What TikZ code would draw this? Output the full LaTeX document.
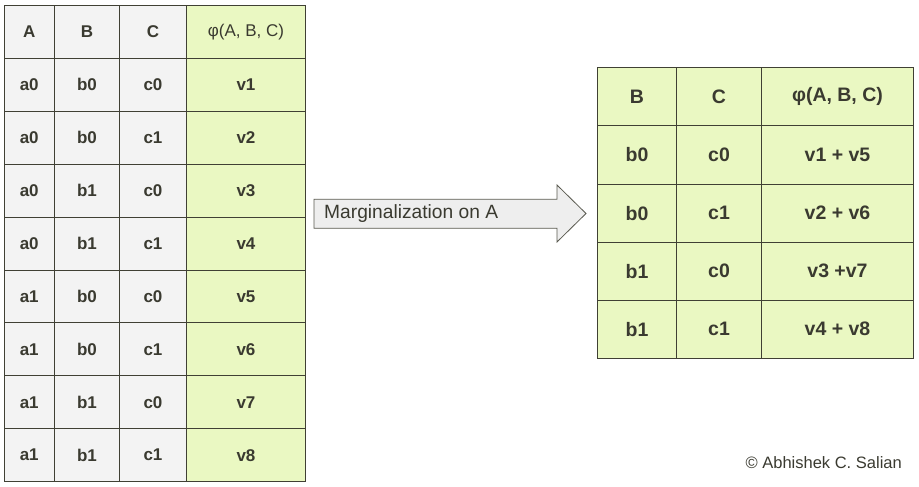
\documentclass[tikz,border=0pt]{standalone}
\usepackage{fontspec}
\setmainfont{Liberation Sans}
\definecolor{grn}{HTML}{EAF8C2}
\definecolor{gry}{HTML}{F3F3F3}
\definecolor{bord}{HTML}{404034}
\definecolor{txt}{HTML}{3A3A30}
\definecolor{arrfill}{HTML}{EEEEEE}
\definecolor{arrbord}{HTML}{5A5A50}
\begin{document}
\begin{tikzpicture}[x=1pt,y=-1pt,
  lcell/.style={draw=bord,line width=1pt,fill=gry,inner sep=0pt,anchor=north west,text=txt,font=\fontsize{17}{19}\selectfont\bfseries},
  lgcell/.style={lcell,fill=grn},
  rcell/.style={draw=bord,line width=1pt,fill=grn,inner sep=0pt,anchor=north west,text=txt,font=\fontsize{19.5}{21}\selectfont\bfseries},
  arrtext/.style={text=txt,font=\fontsize{19.2}{21}\selectfont,anchor=west,inner sep=0pt}]
\useasboundingbox (0,0) rectangle (919,487);
% left table
\def\lh{52.9}
\foreach \r/\a/\b/\c/\v in {0/A/B/C/{\mdseries φ(A, B, C)},1/a0/b0/c0/v1,2/a0/b0/c1/v2,3/a0/b1/c0/v3,4/a0/b1/c1/v4,5/a1/b0/c0/v5,6/a1/b0/c1/v6,7/a1/b1/c0/v7,8/a1/b1/c1/v8}{
  \pgfmathsetmacro\yy{5+\r*\lh}
  \node[lcell,minimum width=50.5pt,minimum height=\lh pt] (L-\r-1) at (3.5,\yy) {\a};
  \node[lcell,minimum width=65pt,minimum height=\lh pt] (L-\r-2) at (54,\yy) {\b};
  \node[lcell,minimum width=67pt,minimum height=\lh pt] (L-\r-3) at (119,\yy) {\c};
  \node[lgcell,minimum width=119pt,minimum height=\lh pt] (L-\r-4) at (186,\yy) {\v};
}
% right table
\def\rh{58.1}
\foreach \r/\b/\c/\v in {0/B/C/{φ(A, B, C)},1/b0/c0/{v1 + v5},2/b0/c1/{v2 + v6},3/b1/c0/{v3 +v7},4/b1/c1/{v4 + v8}}{
  \pgfmathsetmacro\yy{67.3+\r*\rh}
  \node[rcell,minimum width=79pt,minimum height=\rh pt] (R-\r-1) at (597,\yy) {\b};
  \node[rcell,minimum width=85pt,minimum height=\rh pt] (R-\r-2) at (676,\yy) {\c};
  \node[rcell,minimum width=152pt,minimum height=\rh pt] (R-\r-3) at (761,\yy) {\v};
}
% arrow
\draw[draw=arrbord,fill=arrfill,line width=0.8pt,line join=miter]
  (314,199.3) -- (557,199.3) -- (557,185) -- (586,213.5) -- (557,242) -- (557,228.3) -- (314,228.3) -- cycle;
\node[arrtext] (marg) at (324,214) {Marginalization on A};
% copyright
\node[text=txt,font=\fontsize{16.5}{18}\selectfont,anchor=east,inner sep=0pt] (copy) at (902,463) {© Abhishek C. Salian};
\end{tikzpicture}
\end{document}
